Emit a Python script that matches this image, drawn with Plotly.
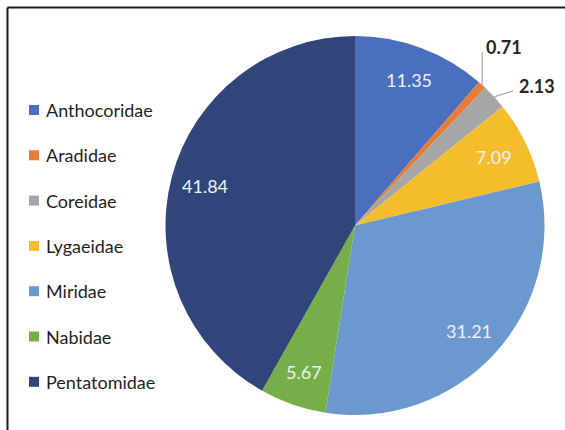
import math
import plotly.graph_objects as go

# Share of each true-bug family (%)
families = ["Anthocoridae", "Aradidae", "Coreidae", "Lygaeidae",
            "Miridae", "Nabidae", "Pentatomidae"]
shares = [11.35, 0.71, 2.13, 7.09, 31.21, 5.67, 41.84]
value_labels = ["11.35", "0.71", "2.13", "7.09", "31.21", "5.67", "41.84"]
colors = ["#4B6FBF", "#E57D36", "#A6A6A6", "#F3BD2C",
          "#6C98D0", "#76AF49", "#31457B"]
outside_labels = {"Aradidae": (0, -33, 2, -38), "Coreidae": (19, -6, 23, -11)}

# Canvas and pie geometry (pixels, origin top-left)
W, H = 565, 430
cx, cy, R = 355, 225.5, 189.5


def to_paper(px, py):
    return px / W, 1 - py / H


fig = go.Figure(go.Pie(
    labels=families,
    values=shares,
    sort=False,
    direction="clockwise",
    rotation=0,
    marker=dict(colors=colors, line=dict(width=0)),
    textinfo="none",
    hoverinfo="label+value",
    showlegend=False,
    domain=dict(x=[(cx - R) / W, (cx + R) / W],
                y=[1 - (cy + R) / H, 1 - (cy - R) / H]),
))

annotations = []
shapes = []

# Value labels placed along each slice's mid-angle
total = sum(shares)
cum = 0.0
for name, val, txt in zip(families, shares, value_labels):
    mid = (cum + val / 2) / total
    cum += val
    th = 2 * math.pi * mid
    if name in outside_labels:
        ex, ey = cx + R * math.sin(th), cy - R * math.cos(th)
        lx, ly, tx, ty = outside_labels[name]
        x0, y0 = to_paper(ex, ey)
        x1, y1 = to_paper(ex + lx, ey + ly)
        shapes.append(dict(type="line", xref="paper", yref="paper",
                           x0=x0, y0=y0, x1=x1, y1=y1,
                           line=dict(color="#9a9a9a", width=1)))
        ax, ay = to_paper(ex + tx, ey + ty)
        annotations.append(dict(x=ax, y=ay, xref="paper", yref="paper",
                                text="<b>" + txt + "</b>", showarrow=False,
                                xanchor="left", yanchor="middle",
                                font=dict(family="Lato", size=18, color="#262626")))
    else:
        r = 0.82 * R
        px, py = cx + r * math.sin(th), cy - r * math.cos(th)
        ax, ay = to_paper(px, py)
        annotations.append(dict(x=ax, y=ay, xref="paper", yref="paper",
                                text=txt, showarrow=False,
                                xanchor="center", yanchor="middle",
                                font=dict(family="Lato", size=18, color="#EEF0F4")))

# Legend drawn as colour squares with family names
leg_x, leg_y0, leg_step, sq = 29, 110, 45.3, 10
for i, (name, col) in enumerate(zip(families, colors)):
    yc = leg_y0 + i * leg_step
    x0, y0 = to_paper(leg_x, yc - sq / 2)
    x1, y1 = to_paper(leg_x + sq, yc + sq / 2)
    shapes.append(dict(type="rect", xref="paper", yref="paper",
                       x0=x0, y0=y0, x1=x1, y1=y1,
                       fillcolor=col, line=dict(width=0)))
    tx, ty = to_paper(leg_x + sq + 5, yc)
    annotations.append(dict(x=tx, y=ty, xref="paper", yref="paper",
                            text=name, showarrow=False,
                            xanchor="left", yanchor="middle",
                            font=dict(family="Lato", size=18, color="#1f1f1f")))

# Chart frame (top and left edges)
bx, by = to_paper(7.5, 7.5)
shapes.append(dict(type="line", xref="paper", yref="paper",
                   x0=bx, y0=by, x1=1, y1=by,
                   line=dict(color="#1a1a1a", width=2)))
shapes.append(dict(type="line", xref="paper", yref="paper",
                   x0=bx, y0=by, x1=bx, y1=0,
                   line=dict(color="#1a1a1a", width=2)))

fig.update_layout(
    width=W, height=H,
    margin=dict(l=0, r=0, t=0, b=0),
    paper_bgcolor="white",
    plot_bgcolor="white",
    annotations=annotations,
    shapes=shapes,
)

fig.write_html("out.html")
